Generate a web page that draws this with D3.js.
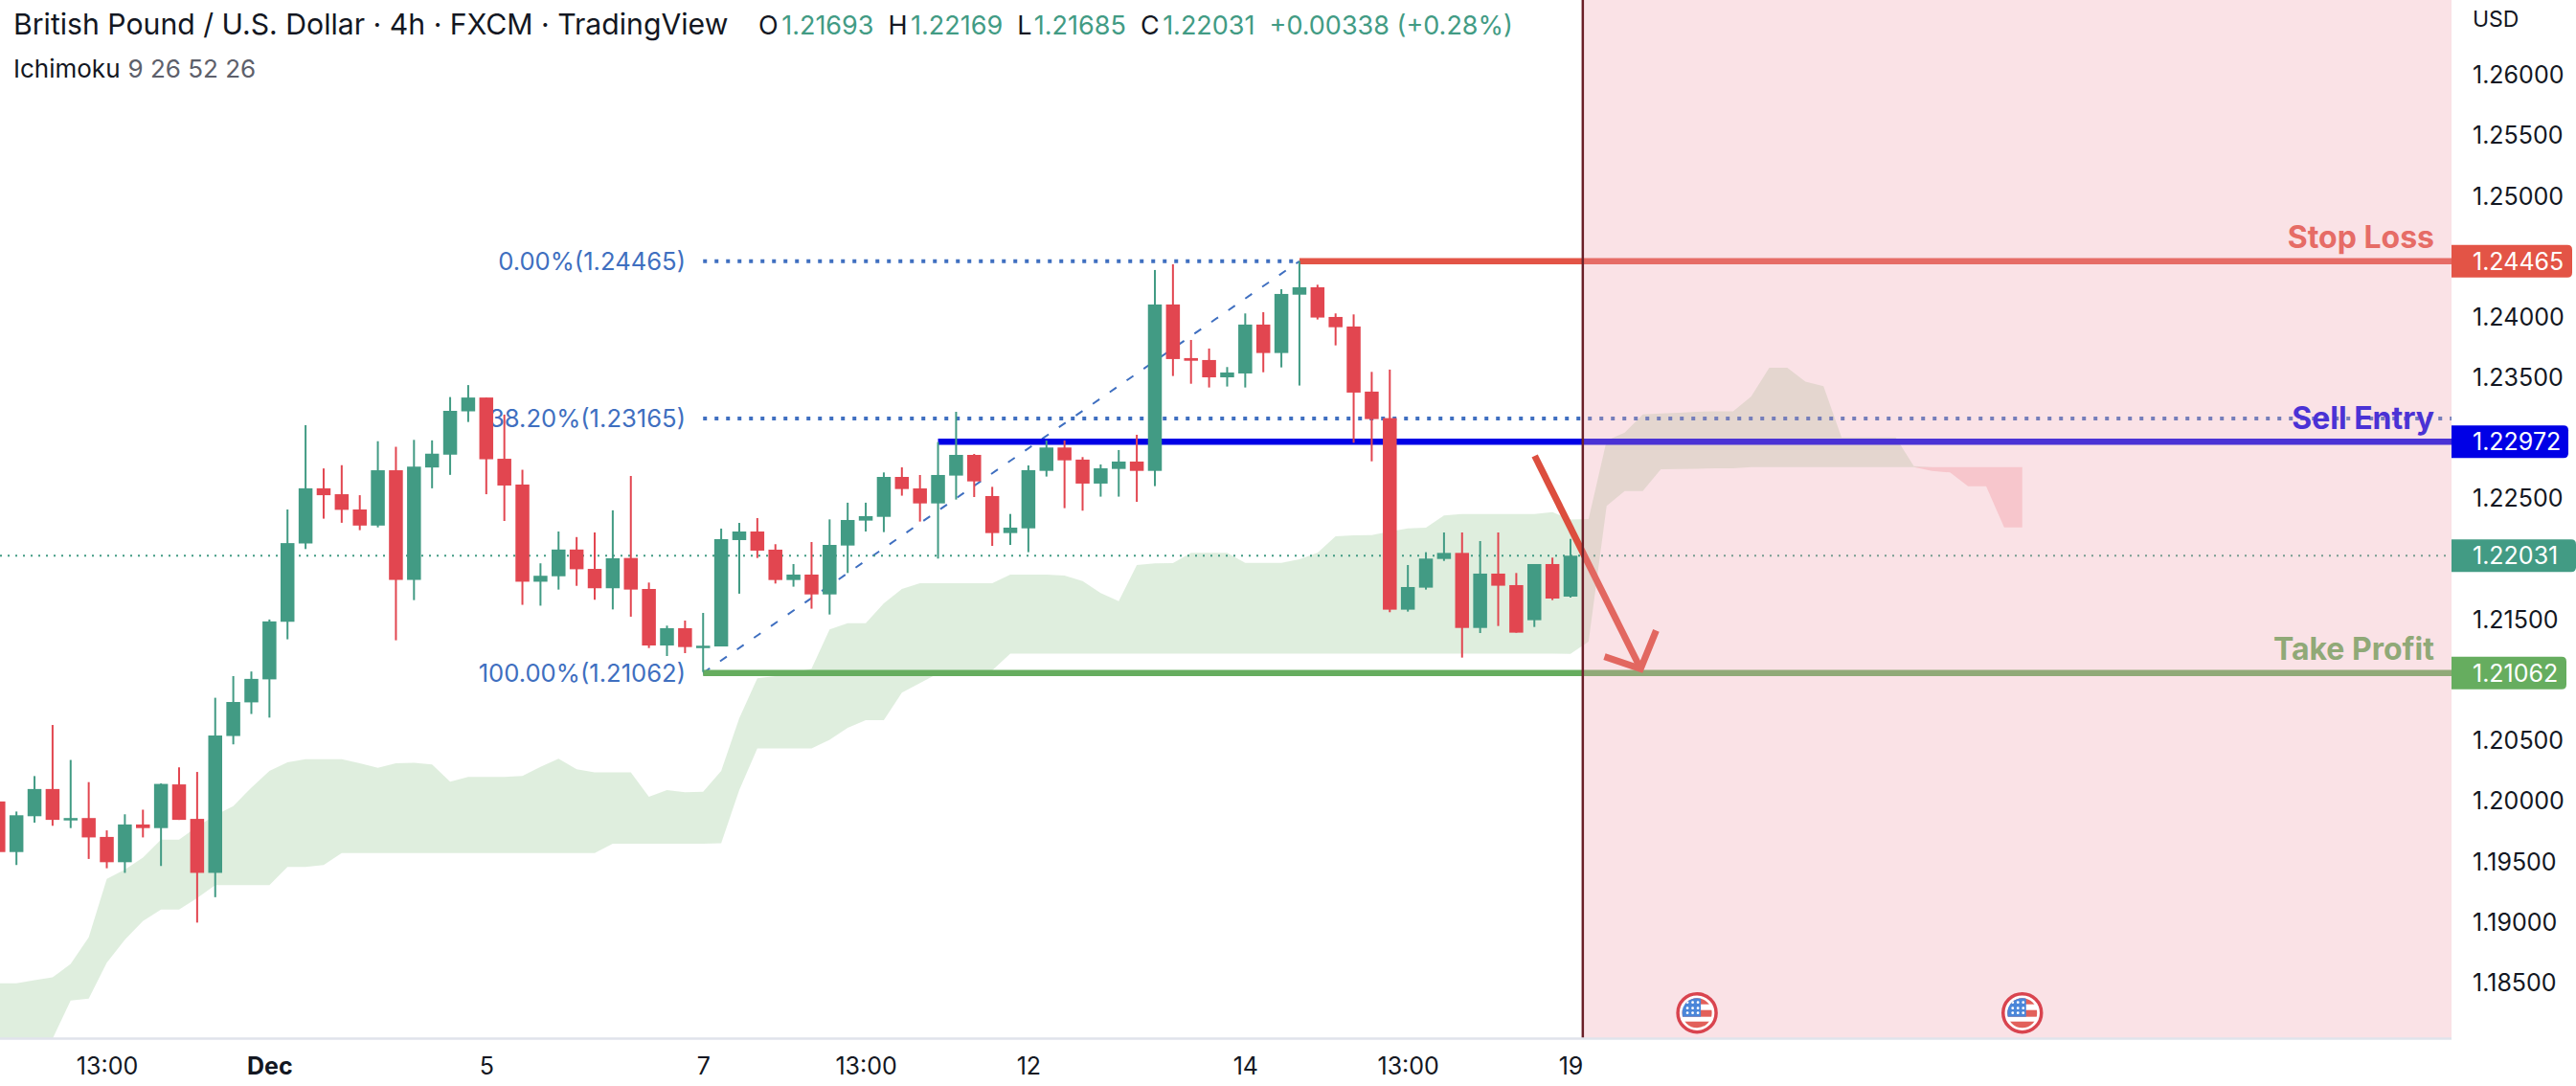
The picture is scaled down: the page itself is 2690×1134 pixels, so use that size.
<!DOCTYPE html>
<html>
<head>
<meta charset="utf-8">
<title>GBPUSD 4h</title>
<script src="https://cdn.jsdelivr.net/npm/d3@7"></script>
<style>
  html, body { margin: 0; padding: 0; background: #fff; }
  svg { display: block; }
  text { font-family: Inter, "Noto Sans", sans-serif; }
</style>
</head>
<body>
<div id="chart"></div>
<script>
// candles, 4h bars
const opens = [1.20000,1.19582,1.19878,1.20103,1.19852,1.19863,1.19707,1.19498,1.19810,1.19780,1.20141,1.19856,1.19410,1.20541,1.20819,1.21009,1.21485,1.22132,1.22588,1.22539,1.22413,1.22280,1.22737,1.21831,1.22760,1.22866,1.23224,1.23338,1.22832,1.22619,1.21816,1.21861,1.22082,1.21922,1.21762,1.22012,1.21756,1.21289,1.21432,1.21276,1.21281,1.22160,1.22231,1.22081,1.21830,1.21875,1.21711,1.22115,1.22321,1.22352,1.22682,1.22587,1.22463,1.22693,1.22864,1.22524,1.22218,1.22257,1.22732,1.22925,1.22825,1.22627,1.22748,1.22809,1.22732,1.24107,1.23664,1.23648,1.23505,1.23537,1.23941,1.23706,1.24188,1.24249,1.24004,1.23925,1.23387,1.23168,1.21585,1.21767,1.22004,1.22054,1.21434,1.21883,1.21788,1.21498,1.21962,1.21693];
const highs = [1.20057,1.19917,1.20210,1.20632,1.20343,1.20160,1.19761,1.19894,1.19932,1.20149,1.20282,1.20244,1.20857,1.21036,1.21074,1.21504,1.22413,1.23110,1.22752,1.22779,1.22531,1.22977,1.22931,1.22988,1.22984,1.23342,1.23441,1.23338,1.23197,1.22741,1.21968,1.22231,1.22185,1.22223,1.22406,1.22690,1.21809,1.21453,1.21495,1.21558,1.22255,1.22302,1.22342,1.22126,1.21962,1.22144,1.22331,1.22469,1.22469,1.22719,1.22761,1.22698,1.22970,1.23220,1.22872,1.22600,1.22376,1.22777,1.22983,1.22983,1.22846,1.22785,1.22904,1.23030,1.24392,1.24439,1.23814,1.23743,1.23590,1.24033,1.24043,1.24233,1.24465,1.24270,1.24033,1.24025,1.23550,1.23569,1.21954,1.22060,1.22223,1.22223,1.22152,1.22223,1.21888,1.21962,1.22015,1.22169];
const lows = [1.19467,1.19475,1.19825,1.19799,1.19780,1.19525,1.19448,1.19410,1.19703,1.19467,1.19848,1.18999,1.19209,1.20472,1.20723,1.20693,1.21340,1.22086,1.22337,1.22303,1.22242,1.22265,1.21332,1.21664,1.22588,1.22699,1.23136,1.22539,1.22318,1.21625,1.21618,1.21751,1.21782,1.21667,1.21587,1.21527,1.21268,1.21202,1.21226,1.21070,1.21281,1.21717,1.22012,1.21801,1.21775,1.21593,1.21545,1.21888,1.22231,1.22226,1.22527,1.22313,1.22007,1.22495,1.22516,1.22112,1.22120,1.22060,1.22685,1.22424,1.22403,1.22519,1.22519,1.22476,1.22606,1.23516,1.23452,1.23421,1.23429,1.23421,1.23547,1.23587,1.23437,1.23983,1.23769,1.22964,1.22811,1.21564,1.21569,1.21751,1.21988,1.21189,1.21392,1.21450,1.21395,1.21442,1.21664,1.21685];
const closes = [1.19582,1.19886,1.20103,1.19848,1.19863,1.19703,1.19498,1.19810,1.19780,1.20145,1.19848,1.19410,1.20545,1.20822,1.21013,1.21488,1.22135,1.22588,1.22531,1.22410,1.22280,1.22737,1.21831,1.22767,1.22874,1.23228,1.23338,1.22828,1.22611,1.21816,1.21865,1.22082,1.21919,1.21762,1.22010,1.21751,1.21289,1.21432,1.21276,1.21287,1.22168,1.22231,1.22073,1.21830,1.21875,1.21711,1.22120,1.22326,1.22358,1.22682,1.22582,1.22463,1.22698,1.22864,1.22645,1.22218,1.22263,1.22738,1.22925,1.22819,1.22627,1.22753,1.22809,1.22732,1.24107,1.23656,1.23642,1.23505,1.23545,1.23941,1.23706,1.24194,1.24249,1.23999,1.23919,1.23379,1.23160,1.21585,1.21772,1.22007,1.22054,1.21434,1.21883,1.21783,1.21395,1.21962,1.21677,1.22031];

// ichimoku spans, index 0..112 (26 bars past the last candle)
const spanA = [1.18497,1.18497,1.18524,1.18546,1.18657,1.18878,1.19361,1.19437,1.19536,1.19684,1.19684,1.19791,1.19886,1.19962,1.20114,1.20252,1.20324,1.20350,1.20350,1.20350,1.20316,1.20278,1.20316,1.20320,1.20305,1.20164,1.20202,1.20202,1.20202,1.20210,1.20286,1.20354,1.20267,1.20240,1.20240,1.20240,1.20039,1.20095,1.20076,1.20081,1.20253,1.20688,1.21018,1.21036,1.21063,1.21097,1.21422,1.21474,1.21474,1.21638,1.21756,1.21804,1.21804,1.21804,1.21804,1.21804,1.21875,1.21875,1.21875,1.21867,1.21822,1.21722,1.21656,1.21954,1.21967,1.21970,1.22054,1.22054,1.22054,1.21972,1.21972,1.21972,1.22001,1.22054,1.22191,1.22199,1.22202,1.22231,1.22257,1.22263,1.22363,1.22376,1.22376,1.22376,1.22376,1.22376,1.22392,1.22329,1.22333,1.22982,1.23048,1.23199,1.23207,1.23212,1.23220,1.23225,1.23225,1.23346,1.23584,1.23584,1.23470,1.23431,1.23009,1.23009,1.23009,1.23009,1.22771,1.22732,1.22719,1.22605,1.22605,1.22265,1.22265];
const spanB = [1.17526,1.17526,1.17679,1.18040,1.18356,1.18371,1.18668,1.18858,1.19011,1.19106,1.19106,1.19201,1.19308,1.19308,1.19308,1.19308,1.19460,1.19460,1.19475,1.19574,1.19574,1.19574,1.19574,1.19574,1.19574,1.19574,1.19574,1.19574,1.19574,1.19574,1.19574,1.19574,1.19574,1.19574,1.19650,1.19650,1.19650,1.19650,1.19650,1.19650,1.19654,1.20095,1.20438,1.20438,1.20438,1.20438,1.20509,1.20609,1.20672,1.20672,1.20899,1.20978,1.21057,1.21062,1.21065,1.21084,1.21221,1.21221,1.21221,1.21221,1.21221,1.21221,1.21221,1.21221,1.21221,1.21221,1.21221,1.21221,1.21221,1.21221,1.21221,1.21221,1.21221,1.21221,1.21221,1.21221,1.21221,1.21221,1.21221,1.21221,1.21221,1.21221,1.21221,1.21221,1.21221,1.21221,1.21221,1.21220,1.21320,1.22442,1.22566,1.22566,1.22745,1.22748,1.22750,1.22753,1.22753,1.22763,1.22763,1.22763,1.22763,1.22763,1.22763,1.22763,1.22763,1.22763,1.22763,1.22763,1.22763,1.22763,1.22763,1.22763,1.22763];

// axes
const priceTicks = [1.26,1.255,1.25,1.24,1.235,1.225,1.215,1.205,1.20,1.195,1.19,1.185];
const timeTickBars = [6,15,27,39,48,57,69,78,87];
const timeTickLabels = ['13:00','Dec','5','7','13:00','12','14','13:00','19'];

// drawn levels and tools
const fibLevels = [0.0, 38.2, 100.0];
const fibPrices = [1.24465, 1.23165, 1.21062];
const fibStartBar = 39;
const fibEndBar = 72;
const tradeNames = ['Stop Loss', 'Sell Entry', 'Take Profit'];
const tradePrices = [1.24465, 1.22972, 1.21062];
const tradeStartBars = [72, 52, 39];
const lastPrice = 1.22031;
const sessionBreakBar = 87.68;
const arrowShaft = [[85.02, 1.22856], [90.88, 1.21097]];
const arrowHead = [[88.88, 1.21197], [90.88, 1.21097], [91.74, 1.21413]];
const eventBars = [94, 112];

const legendTitle = 'British Pound / U.S. Dollar · 4h · FXCM · TradingView';
const legendKeys = ['O', 'H', 'L', 'C'];
const legendValues = ['1.21693', '1.22169', '1.21685', '1.22031'];
const legendChange = '+0.00338 (+0.28%)';

const GREEN = '#429b84';
const RED = '#e24650';
const FIB_BLUE = '#3f6fc0';
const tradeColors = ['#e35446', '#0000e6', '#66ad5f'];

const width = 2690;
const height = 1134;
const plotRight = 2560;
const plotBottom = 1084;

const x = d3.scaleLinear().domain([0, 87]).range([-1.7, 1640]);
const y = d3.scaleLinear().domain([1.24465, 1.21062]).range([272.7, 702.7]);

const svg = d3.select('#chart').append('svg')
  .attr('width', width)
  .attr('height', height);

svg.append('defs').append('clipPath').attr('id', 'plot')
  .append('rect').attr('width', plotRight).attr('height', plotBottom);

const plot = svg.append('g').attr('clip-path', 'url(#plot)');

// cloud
const cloud = d3.range(spanA.length);
const cloudArea = (pick) => d3.area()
  .x((i) => x(i))
  .y0((i) => y(spanB[i]))
  .y1((i) => y(pick(spanA[i], spanB[i])));

plot.append('path').datum(cloud)
  .attr('d', cloudArea(Math.max))
  .attr('fill', 'rgb(77,160,72)').attr('fill-opacity', 0.18);
plot.append('path').datum(cloud)
  .attr('d', cloudArea(Math.min))
  .attr('fill', 'rgb(235,54,69)').attr('fill-opacity', 0.2);

// fib tool
plot.selectAll('.fib-level').data(fibPrices).enter().append('line')
  .attr('class', 'fib-level')
  .attr('x1', x(fibStartBar)).attr('x2', plotRight)
  .attr('y1', (d) => y(d)).attr('y2', (d) => y(d))
  .attr('stroke', FIB_BLUE).attr('stroke-width', 4)
  .attr('stroke-dasharray', '4 8');

plot.append('line')
  .attr('x1', x(fibStartBar)).attr('y1', y(fibPrices[2]))
  .attr('x2', x(fibEndBar)).attr('y2', y(fibPrices[0]))
  .attr('stroke', FIB_BLUE).attr('stroke-width', 2)
  .attr('stroke-dasharray', '8.5 13');

plot.selectAll('.fib-label').data(fibPrices).enter().append('text')
  .attr('class', 'fib-label')
  .attr('x', 716)
  .attr('y', (d) => y(d) + 9)
  .attr('text-anchor', 'end')
  .attr('font-size', 25.6)
  .attr('fill', FIB_BLUE)
  .text((d, i) => fibLevels[i].toFixed(2) + '%(' + d.toFixed(5) + ')');

// trade lines
plot.selectAll('.trade-line').data(tradePrices).enter().append('line')
  .attr('class', 'trade-line')
  .attr('x1', (d, i) => x(tradeStartBars[i])).attr('x2', plotRight)
  .attr('y1', (d) => y(d)).attr('y2', (d) => y(d))
  .attr('stroke', (d, i) => tradeColors[i]).attr('stroke-width', 6.5);

// last price line
plot.append('line')
  .attr('x1', 0).attr('x2', plotRight)
  .attr('y1', y(lastPrice)).attr('y2', y(lastPrice))
  .attr('stroke', GREEN).attr('stroke-width', 2)
  .attr('stroke-dasharray', '2 6');

// candles
const bars = d3.range(opens.length);
const candleColor = (i) => (closes[i] >= opens[i] ? GREEN : RED);

plot.selectAll('.wick').data(bars).enter().append('line')
  .attr('class', 'wick')
  .attr('x1', (i) => x(i)).attr('x2', (i) => x(i))
  .attr('y1', (i) => y(highs[i])).attr('y2', (i) => y(lows[i]))
  .attr('stroke', candleColor).attr('stroke-width', 2);

plot.selectAll('.body').data(bars).enter().append('rect')
  .attr('class', 'body')
  .attr('x', (i) => x(i) - 7.25)
  .attr('width', 14.5)
  .attr('y', (i) => y(Math.max(opens[i], closes[i])))
  .attr('height', (i) => Math.max(2.5, Math.abs(y(opens[i]) - y(closes[i]))))
  .attr('fill', candleColor);

// arrow
const arrowLine = d3.line().x((d) => x(d[0])).y((d) => y(d[1]));
[arrowShaft, arrowHead].forEach((points) => {
  plot.append('path').attr('d', arrowLine(points))
    .attr('fill', 'none').attr('stroke', '#dc4e3e').attr('stroke-width', 7);
});

// trade names sit under the session shade too
plot.selectAll('.trade-name').data(tradeNames).enter().append('text')
  .attr('class', 'trade-name')
  .attr('x', 2542)
  .attr('y', (d, i) => y(tradePrices[i]) + (i === 1 ? -13 : -14))
  .attr('text-anchor', 'end')
  .attr('font-size', 32).attr('font-weight', 700)
  .attr('fill', (d, i) => tradeColors[i])
  .text((d) => d);

// session shade, covers everything right of the break
plot.append('rect')
  .attr('x', x(sessionBreakBar)).attr('y', 0)
  .attr('width', plotRight - x(sessionBreakBar)).attr('height', plotBottom)
  .attr('fill', 'rgb(239,160,175)').attr('fill-opacity', 0.31);

plot.append('line')
  .attr('x1', x(sessionBreakBar)).attr('x2', x(sessionBreakBar))
  .attr('y1', 0).attr('y2', plotBottom)
  .attr('stroke', '#6b1f28').attr('stroke-width', 2.5);

// event flags
const flag = svg.selectAll('.flag').data(eventBars).enter().append('g')
  .attr('class', 'flag')
  .attr('transform', (d) => 'translate(' + x(d) + ',1057.7)');

svg.select('defs').append('clipPath').attr('id', 'flag-disc')
  .append('circle').attr('r', 15.5);

flag.append('circle').attr('r', 20).attr('fill', '#fff')
  .attr('stroke', '#d9444f').attr('stroke-width', 3.5);

const flagInner = flag.append('g').attr('clip-path', 'url(#flag-disc)');
[[-16, 7], [-3, 7], [9, 8]].forEach((s) => {
  flagInner.append('rect')
    .attr('x', -16).attr('width', 32)
    .attr('y', s[0]).attr('height', s[1])
    .attr('fill', '#e2605a');
});
flagInner.append('rect')
  .attr('x', -16).attr('y', -16)
  .attr('width', 20).attr('height', 20)
  .attr('fill', '#4a86d9');
d3.cross([-10, -4.5, 1], [-11, -5, 0]).forEach((p) => {
  flagInner.append('circle')
    .attr('cx', p[0]).attr('cy', p[1]).attr('r', 1.4)
    .attr('fill', '#fff');
});

// axes
const timeAxis = d3.axisBottom(x)
  .tickValues(timeTickBars)
  .tickSize(0)
  .tickPadding(0)
  .tickFormat((d, i) => timeTickLabels[i]);

const timeG = svg.append('g')
  .attr('transform', 'translate(0,' + plotBottom + ')')
  .call(timeAxis);
timeG.select('.domain').remove();
timeG.selectAll('text')
  .attr('y', 38)
  .attr('dy', 0)
  .attr('font-size', 25)
  .attr('fill', '#131722')
  .attr('font-weight', (d, i) => (timeTickLabels[i] === 'Dec' ? 700 : 400));

svg.append('line')
  .attr('x1', 0).attr('x2', plotRight)
  .attr('y1', plotBottom + 0.5).attr('y2', plotBottom + 0.5)
  .attr('stroke', '#e0e3eb').attr('stroke-width', 2.5);

const priceAxis = d3.axisRight(y)
  .tickValues(priceTicks)
  .tickSize(0)
  .tickPadding(22)
  .tickFormat(d3.format('.5f'));

const priceG = svg.append('g')
  .attr('transform', 'translate(' + plotRight + ',0)')
  .call(priceAxis);
priceG.select('.domain').remove();
priceG.selectAll('text')
  .attr('font-size', 25)
  .attr('fill', '#131722');

svg.append('text')
  .attr('x', 2582).attr('y', 28)
  .attr('font-size', 23).attr('fill', '#131722')
  .text('USD');

// price tags
const tagPrices = tradePrices.concat([lastPrice]);
const tagColors = tradeColors.concat([GREEN]);
const tagRights = [2686, 2682, 2680, 2690];

svg.selectAll('.tag').data(tagPrices).enter().append('path')
  .attr('class', 'tag')
  .attr('d', (d, i) => {
    const top = y(d) - 17;
    const right = tagRights[i];
    return 'M' + plotRight + ',' + top + 'H' + (right - 5)
      + 'Q' + right + ',' + top + ' ' + right + ',' + (top + 5)
      + 'V' + (top + 29)
      + 'Q' + right + ',' + (top + 34) + ' ' + (right - 5) + ',' + (top + 34)
      + 'H' + plotRight + 'Z';
  })
  .attr('fill', (d, i) => tagColors[i]);

svg.selectAll('.tag-label').data(tagPrices).enter().append('text')
  .attr('class', 'tag-label')
  .attr('x', 2582)
  .attr('y', (d) => y(d) + 9)
  .attr('font-size', 25)
  .attr('fill', '#fff')
  .text((d) => d.toFixed(5));

// legend
svg.append('text')
  .attr('x', 14).attr('y', 36)
  .attr('font-size', 30.2).attr('fill', '#131722')
  .text(legendTitle);

const legend = svg.append('text')
  .attr('x', 792).attr('y', 36)
  .attr('font-size', 27).attr('fill', GREEN);

legendKeys.forEach((key, i) => {
  legend.append('tspan').attr('dx', i ? 15 : 0).attr('fill', '#131722').text(key);
  legend.append('tspan').attr('dx', 3.5).text(legendValues[i]);
});
legend.append('tspan').attr('dx', 15).text(legendChange);

const study = svg.append('text')
  .attr('x', 14).attr('y', 81)
  .attr('font-size', 26).attr('fill', '#131722');
study.append('tspan').text('Ichimoku');
study.append('tspan').attr('dx', 8).attr('fill', '#5d606b').text('9 26 52 26');
</script>
</body>
</html>
